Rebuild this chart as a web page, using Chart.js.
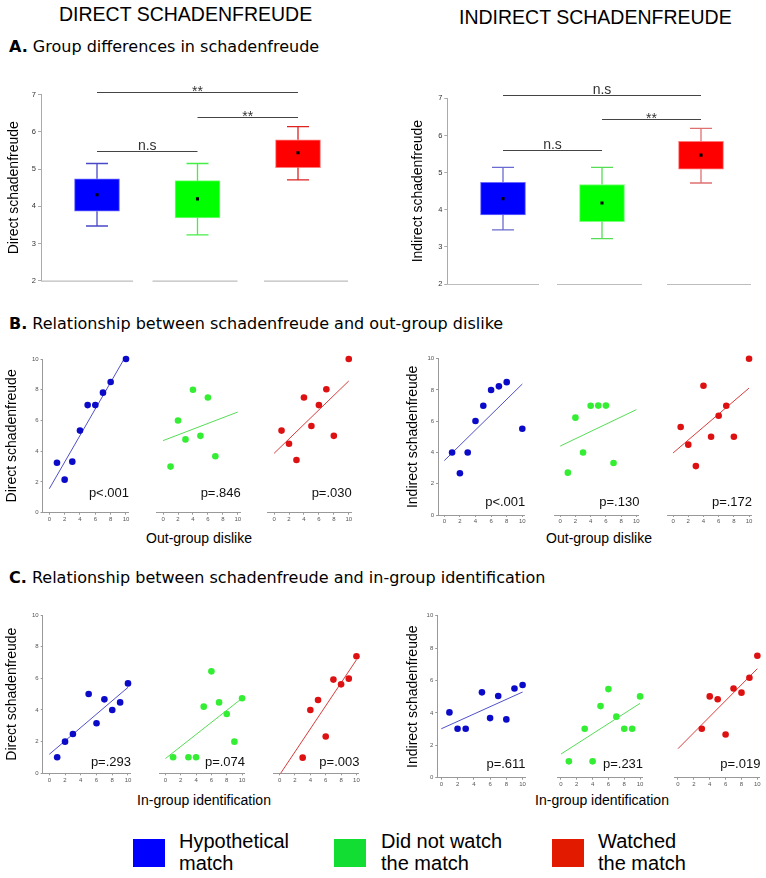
<!DOCTYPE html>
<html>
<head>
<meta charset="utf-8">
<script src="https://cdn.jsdelivr.net/npm/chart.js@4.4.0/dist/chart.umd.min.js"></script>
<style>
body { margin: 0; background: #fff; width: 766px; height: 878px; position: relative; overflow: hidden; font-family: "Liberation Sans", Arial, sans-serif; }
canvas { position: absolute; }
.t { position: absolute; white-space: nowrap; color: #000; line-height: 1; }
.head { font-size: 19.5px; }
.sec { font-family: "DejaVu Sans", Verdana, sans-serif; font-size: 16px; }
.xl { font-size: 14px; transform: translateX(-50%); }
.sw { position: absolute; width: 32px; height: 28px; }
.lg { font-size: 20px; line-height: 22.4px; }
</style>
</head>
<body>
<div class="t head" style="left:59px; top:4.5px">DIRECT SCHADENFREUDE</div>
<div class="t head" style="left:459px; top:8px">INDIRECT SCHADENFREUDE</div>
<div class="t sec" style="left:9px; top:38.5px"><b>A.</b> Group differences in schadenfreude</div>
<div class="t sec" style="left:9px; top:316px"><b>B.</b> Relationship between schadenfreude and out-group dislike</div>
<div class="t sec" style="left:9px; top:569.5px"><b>C.</b> Relationship between schadenfreude and in-group identification</div>
<div class="t xl" style="left:199px; top:531px">Out-group dislike</div>
<div class="t xl" style="left:599px; top:531px">Out-group dislike</div>
<div class="t xl" style="left:204px; top:793px">In-group identification</div>
<div class="t xl" style="left:602px; top:793px">In-group identification</div>

<canvas id="boxDirect"></canvas>
<canvas id="boxIndirect"></canvas>
<canvas id="b1"></canvas><canvas id="b2"></canvas><canvas id="b3"></canvas>
<canvas id="b4"></canvas><canvas id="b5"></canvas><canvas id="b6"></canvas>
<canvas id="c1"></canvas><canvas id="c2"></canvas><canvas id="c3"></canvas>
<canvas id="c4"></canvas><canvas id="c5"></canvas><canvas id="c6"></canvas>

<div id="legend"></div>

<script>
// groups (legend order)
const groups = ['Hypothetical match', 'Did not watch the match', 'Watched the match'];

// A. box plots - direct
const directLow = [3.47, 3.23, 4.71];
const directQ1 = [3.87, 3.69, 5.04];
const directMean = [4.31, 4.20, 5.44];
const directQ3 = [4.74, 4.69, 5.79];
const directHigh = [5.15, 5.15, 6.14];
// A. box plots - indirect
const indirectLow = [3.46, 3.22, 4.72];
const indirectQ1 = [3.86, 3.68, 5.09];
const indirectMean = [4.30, 4.18, 5.47];
const indirectQ3 = [4.74, 4.68, 5.84];
const indirectHigh = [5.14, 5.14, 6.19];
// significance brackets: [group a, group b, height, label]
const directSig = [[1, 2, 5.50, 'n.s'], [2, 3, 6.41, '**'], [1, 3, 7.06, '**']];
const indirectSig = [[1, 2, 5.62, 'n.s'], [2, 3, 6.44, '**'], [1, 3, 7.10, 'n.s']];
const boxTicks = [2, 3, 4, 5, 6, 7];

// B. out-group dislike
const dirOutX = [[1, 2, 3, 4, 5, 6, 7, 8, 10], [1, 2, 3, 4, 5, 6, 7], [1, 2, 3, 4, 5, 6, 7, 8, 10]];
const dirOutY = [[3.25, 2.15, 3.32, 5.34, 7.0, 7.0, 7.81, 8.5, 10.0], [3.0, 6.0, 4.77, 8.0, 5.0, 7.5, 3.67], [5.34, 4.49, 3.43, 7.5, 5.64, 7.0, 8.03, 5.0, 10.0]];
const dirOutFit = [[0, 1.56, 9.75, 10.0], [0, 4.69, 10, 6.55], [0, 3.86, 10, 8.57]];
const dirOutP = ['p<.001', 'p=.846', 'p=.030'];

const indOutX = [[1, 2, 3, 4, 5, 6, 7, 8, 10], [1, 2, 3, 4, 5, 6, 7], [1, 2, 3, 4, 5, 6, 7, 8, 10]];
const indOutY = [[4.0, 2.67, 4.0, 6.01, 6.99, 8.0, 8.23, 8.5, 5.52], [2.71, 6.23, 4.0, 6.99, 7.0, 7.0, 3.33], [5.63, 4.5, 3.13, 8.27, 5.01, 6.35, 6.99, 5.01, 10.0]];
const indOutFit = [[0, 3.48, 10, 8.38], [0, 4.41, 10, 6.74], [0, 3.97, 10, 8.12]];
const indOutP = ['p<.001', 'p=.130', 'p=.172'];

// C. in-group identification
const dirInX = [[1, 2, 3, 5, 6, 7, 8, 9, 10], [1, 3, 4, 5, 6, 7, 8, 9, 10], [3, 4, 5, 6, 7, 8, 9, 10]];
const dirInY = [[1.01, 2.0, 2.48, 5.01, 3.16, 4.67, 4.0, 4.48, 5.68], [1.01, 1.01, 1.01, 4.21, 6.44, 4.48, 3.75, 2.0, 4.74], [0.99, 4.0, 4.63, 2.32, 5.92, 5.62, 5.98, 7.39]];
const dirInFit = [[0, 1.2, 10, 5.43], [0, 0.93, 10, 4.74], [0.13, 0, 10, 7.17]];
const dirInP = ['p=.293', 'p=.074', 'p=.003'];

const indInX = [[1, 2, 3, 5, 6, 7, 8, 9, 10], [1, 3, 4, 5, 6, 7, 8, 9, 10], [3, 4, 5, 6, 7, 8, 9, 10]];
const indInY = [[4.03, 3.02, 3.02, 5.27, 3.68, 5.04, 3.6, 5.51, 5.72], [1.01, 3.02, 1.01, 4.42, 5.47, 3.77, 3.02, 3.02, 5.02], [3.02, 5.02, 4.84, 2.67, 5.51, 5.25, 6.17, 7.53]];
const indInFit = [[0, 3.02, 10, 5.29], [0, 1.46, 10, 4.59], [0, 1.79, 10, 6.73]];
const indInP = ['p=.611', 'p=.231', 'p=.019'];

const scatterTicks = [0, 2, 4, 6, 8, 10];

// colours
const boxFill = ['#0000ff', '#00ff00', '#ff0000'];
const boxEdge = ['#6a6aff', '#7aff7a', '#ff7a7a'];
const legendFill = ['#0000ff', '#11dd33', '#e21a00'];
const dotColor = ['#0a0ac8', '#33ee33', '#dd1111'];
const fitColor = ['#5050c8', '#55dd55', '#d83c3c'];

Chart.defaults.font.family = '"Liberation Sans", Arial, sans-serif';
Chart.defaults.animation = false;
Chart.defaults.plugins.legend.display = false;
Chart.defaults.plugins.tooltip.enabled = false;

/**
 * Whiskers, significance bars and broken baseline for the box panels
 */
function boxDecor(low, q1, q3, high, sig, whisk) {
    return {
        id: 'boxDecor',
        afterDraw(chart) {
            const ctx = chart.ctx;
            const x = chart.scales.x, y = chart.scales.y;
            ctx.save();
            // grey baseline pieces under each group
            const segs = [[-56, 36], [-45, 40], [-34, 50]];
            ctx.strokeStyle = '#bdbdbd';
            ctx.lineWidth = 1.2;
            const yb = y.getPixelForValue(2) + 0.5;
            segs.forEach((s, i) => {
                const c = x.getPixelForValue(i + 1);
                ctx.beginPath();
                ctx.moveTo(c + s[0], yb);
                ctx.lineTo(c + s[1], yb);
                ctx.stroke();
            });
            // whiskers
            ctx.lineWidth = 1.3;
            low.forEach((v, i) => {
                const c = x.getPixelForValue(i + 1);
                const yh = y.getPixelForValue(high[i]), yl = y.getPixelForValue(v);
                ctx.strokeStyle = whisk[i];
                ctx.beginPath();
                ctx.moveTo(c, y.getPixelForValue(q3[i])); ctx.lineTo(c, yh);
                ctx.moveTo(c - 11, yh); ctx.lineTo(c + 11, yh);
                ctx.moveTo(c, y.getPixelForValue(q1[i])); ctx.lineTo(c, yl);
                ctx.moveTo(c - 11, yl); ctx.lineTo(c + 11, yl);
                ctx.stroke();
            });
            // significance bars
            ctx.strokeStyle = '#444';
            ctx.fillStyle = '#333';
            ctx.lineWidth = 1;
            ctx.font = '14px "Liberation Sans", Arial, sans-serif';
            ctx.textAlign = 'center';
            ctx.textBaseline = 'alphabetic';
            sig.forEach(s => {
                const x1 = x.getPixelForValue(s[0]), x2 = x.getPixelForValue(s[1]);
                const yy = Math.round(y.getPixelForValue(s[2])) + 0.5;
                ctx.beginPath();
                ctx.moveTo(x1, yy);
                ctx.lineTo(x2, yy);
                ctx.stroke();
                ctx.fillText(s[3], (x1 + x2) / 2, yy - (s[3] === '**' ? -3 : 2));
            });
            ctx.restore();
        }
    };
}

function boxChart(id, geo, low, q1, mean, q3, high, sig, yTitle, whisk) {
    const cv = document.getElementById(id);
    cv.style.left = geo.left + 'px';
    cv.style.top = geo.top + 'px';
    cv.width = geo.w;
    cv.height = geo.h;
    const ppu = (geo.c3 - geo.c1) / 2;
    new Chart(cv, {
        type: 'bar',
        data: {
            datasets: [{
                type: 'scatter',
                data: mean.map((m, i) => ({ x: i + 1, y: m })),
                pointStyle: 'rect',
                pointRadius: 2.2,
                backgroundColor: '#000',
                borderColor: '#000',
                borderWidth: 0,
                order: 0
            }, {
                type: 'bar',
                data: q1.map((v, i) => ({ x: i + 1, y: [v, q3[i]] })),
                backgroundColor: boxFill,
                borderColor: boxEdge,
                borderWidth: 1,
                borderSkipped: false,
                barThickness: 45,
                order: 1
            }]
        },
        options: {
            responsive: false,
            devicePixelRatio: 1,
            layout: { padding: { left: 0, top: geo.areaT - geo.top, right: geo.left + geo.w - geo.areaR, bottom: geo.top + geo.h - geo.areaB } },
            scales: {
                x: {
                    type: 'linear',
                    display: false,
                    offset: false,
                    min: 1 - (geo.c1 - geo.areaL) / ppu,
                    max: 3 + (geo.areaR - geo.c3) / ppu
                },
                y: {
                    min: 2,
                    max: 7,
                    afterBuildTicks: s => { s.ticks = boxTicks.map(v => ({ value: v })); },
                    afterFit: s => { s.width = geo.areaL - geo.left; },
                    ticks: { font: { size: 7.5 }, color: '#333', padding: 2 },
                    grid: { drawOnChartArea: false, tickLength: 3, color: '#aaa' },
                    border: { color: '#aaa' },
                    title: {
                        display: true,
                        text: yTitle,
                        color: '#000',
                        font: { size: 14 },
                        padding: { top: geo.titleX - geo.left - 8.4, bottom: 0 }
                    }
                }
            }
        },
        plugins: [boxDecor(low, q1, q3, high, sig, whisk)]
    });
}

/**
 * One small scatter panel with fitted line and p-value
 */
function scatterChart(id, row, i, xs, ys, fit, pText, yTitle) {
    const x0 = row.x0[i], ppu = row.ppu;
    const areaL = x0 + row.xMin * ppu, areaR = x0 + 10.3 * ppu;
    const showY = i === 0;
    const left = Math.round(areaL - (showY ? row.yW : 2));
    const top = Math.round(row.y10 - 8);
    const width = Math.round(areaR + 14 - left);
    const height = Math.round(row.y0 + 14 - top);
    const cv = document.getElementById(id);
    cv.style.left = left + 'px';
    cv.style.top = top + 'px';
    cv.width = width;
    cv.height = height;

    new Chart(cv, {
        type: 'scatter',
        data: {
            datasets: [{
                data: xs.map((v, k) => ({ x: v, y: ys[k] })),
                pointRadius: 3.3,
                backgroundColor: dotColor[i],
                borderWidth: 0,
                clip: false,
                order: 0
            }, {
                type: 'line',
                data: [{ x: fit[0], y: fit[1] }, { x: fit[2], y: fit[3] }],
                borderColor: fitColor[i],
                borderWidth: 1,
                pointRadius: 0,
                clip: false,
                order: 1
            }]
        },
        options: {
            responsive: false,
            devicePixelRatio: 1,
            layout: { padding: { left: showY ? 0 : areaL - left, top: row.y10 - top, right: left + width - areaR, bottom: 0 } },
            scales: {
                x: {
                    type: 'linear',
                    min: row.xMin,
                    max: 10.3,
                    afterBuildTicks: s => { s.ticks = scatterTicks.map(v => ({ value: v })); },
                    afterFit: s => { s.height = top + height - row.y0; },
                    ticks: { font: { size: 6 }, color: '#555', padding: 1, autoSkip: false, maxRotation: 0 },
                    grid: { drawOnChartArea: false, tickLength: 2, color: '#999' },
                    border: { color: '#999' }
                },
                y: {
                    display: showY,
                    min: 0,
                    max: 10,
                    afterBuildTicks: s => { s.ticks = scatterTicks.map(v => ({ value: v })); },
                    afterFit: s => { s.width = areaL - left; },
                    ticks: { font: { size: 6 }, color: '#555', padding: 2 },
                    grid: { drawOnChartArea: false, tickLength: 2, color: '#999' },
                    border: { color: '#999' },
                    title: {
                        display: !!yTitle,
                        text: yTitle,
                        color: '#000',
                        font: { size: 14 },
                        padding: { top: row.titleX - left - 8.4, bottom: 0 }
                    }
                }
            }
        },
        plugins: [{
            id: 'pValue',
            afterDraw(chart) {
                const ctx = chart.ctx;
                ctx.save();
                ctx.font = '13px "Liberation Sans", Arial, sans-serif';
                ctx.fillStyle = '#111';
                ctx.textAlign = 'right';
                ctx.textBaseline = 'alphabetic';
                ctx.fillText(pText, chart.scales.x.getPixelForValue(10) + 3, chart.scales.y.getPixelForValue(0) - row.pDy);
                ctx.restore();
            }
        }]
    });
}

// panel geometry
const geoDirect = { left: 0, top: 72, w: 380, h: 225, areaL: 41, areaT: 94.7, areaB: 280.7, areaR: 348, c1: 97, c3: 298, titleX: 14 };
const geoIndirect = { left: 390, top: 72, w: 376, h: 225, areaL: 447.3, areaT: 98.3, areaB: 284, areaR: 757, c1: 503, c3: 701, titleX: 418 };

const rowB1 = { x0: [49.3, 161, 272], ppu: 7.67, xMin: -0.88, y10: 359, y0: 512.7, yW: 42, titleX: 12, pDy: 16 };
const rowB2 = { x0: [444.3, 558.3, 671], ppu: 7.8, xMin: -0.8, y10: 358.7, y0: 515, yW: 40, titleX: 413, pDy: 9 };
const rowC1 = { x0: [49.3, 163.3, 277.7], ppu: 7.87, xMin: -0.84, y10: 615, y0: 773.3, yW: 42, titleX: 12, pDy: 7 };
const rowC2 = { x0: [441.3, 558.7, 676], ppu: 8.13, xMin: -0.5, y10: 615.7, y0: 777.7, yW: 40, titleX: 413, pDy: 10 };

boxChart('boxDirect', geoDirect, directLow, directQ1, directMean, directQ3, directHigh, directSig,
    'Direct schadenfreude', ['#4848c8', '#44ee44', '#dd2222']);
boxChart('boxIndirect', geoIndirect, indirectLow, indirectQ1, indirectMean, indirectQ3, indirectHigh, indirectSig,
    'Indirect schadenfreude', ['#6a6ad0', '#55dd55', '#e07070']);

['b1', 'b2', 'b3'].forEach((id, i) =>
    scatterChart(id, rowB1, i, dirOutX[i], dirOutY[i], dirOutFit[i], dirOutP[i], i === 0 ? 'Direct schadenfreude' : ''));
['b4', 'b5', 'b6'].forEach((id, i) =>
    scatterChart(id, rowB2, i, indOutX[i], indOutY[i], indOutFit[i], indOutP[i], i === 0 ? 'Indirect schadenfreude' : ''));
['c1', 'c2', 'c3'].forEach((id, i) =>
    scatterChart(id, rowC1, i, dirInX[i], dirInY[i], dirInFit[i], dirInP[i], i === 0 ? 'Direct schadenfreude' : ''));
['c4', 'c5', 'c6'].forEach((id, i) =>
    scatterChart(id, rowC2, i, indInX[i], indInY[i], indInFit[i], indInP[i], i === 0 ? 'Indirect schadenfreude' : ''));

// legend
const legendPos = [[133, 179], [334, 381], [552, 598]];
const legendLines = [['Hypothetical', 'match'], ['Did not watch', 'the match'], ['Watched', 'the match']];
const legendBox = document.getElementById('legend');
groups.forEach((g, i) => {
    const sw = document.createElement('div');
    sw.className = 'sw';
    sw.style.left = legendPos[i][0] + 'px';
    sw.style.top = '839px';
    sw.style.background = legendFill[i];
    legendBox.appendChild(sw);
    const tx = document.createElement('div');
    tx.className = 't lg';
    tx.style.left = legendPos[i][1] + 'px';
    tx.style.top = '830px';
    tx.innerHTML = legendLines[i].join('<br>');
    legendBox.appendChild(tx);
});
</script>
</body>
</html>
